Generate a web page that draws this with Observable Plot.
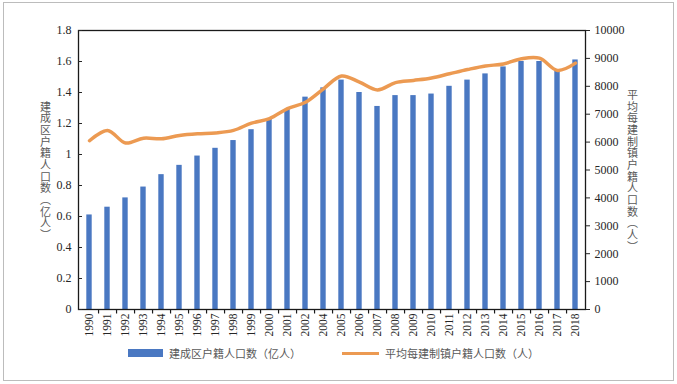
<!DOCTYPE html>
<html>
<head>
<meta charset="utf-8">
<script src="https://cdn.jsdelivr.net/npm/d3@7"></script>
<script src="https://cdn.jsdelivr.net/npm/@observablehq/plot@0.6"></script>
<style>
  html, body { margin: 0; padding: 0; background: #fff; }
  #wrap { position: relative; width: 677px; height: 384px; overflow: hidden; background: #fff; }
  #border { position: absolute; left: 3px; top: 2px; width: 669px; height: 377px; border: 1.5px solid #bcbcbc; }
  #chart { position: absolute; left: 0; top: 0; }
  #chart svg text { font-family: "Liberation Serif", "Noto Sans CJK SC", serif; }
  .lg { position: absolute; font-family: "Noto Sans CJK SC", sans-serif; font-size: 11px; color: #595959; line-height: 14px; white-space: nowrap; }
  .sw { position: absolute; }
</style>
</head>
<body>
<div id="wrap">
  <div id="border"></div>
  <div id="chart"></div>
  <div id="legend"></div>
</div>
<script>
const years = ["1990","1991","1992","1993","1994","1995","1996","1997","1998","1999","2000","2001","2002",
               "2004","2005","2006","2007","2008","2009","2010","2011","2012","2013","2014","2015","2016","2017","2018"];
const builtPop = [0.61,0.66,0.72,0.79,0.87,0.93,0.99,1.04,1.09,1.16,1.23,1.29,1.37,
                  1.43,1.48,1.40,1.31,1.38,1.38,1.39,1.44,1.48,1.52,1.565,1.60,1.60,1.54,1.61];
const townPop = [6050,6420,5970,6140,6120,6240,6300,6330,6420,6680,6840,7200,7430,
                 7910,8370,8150,7870,8130,8210,8300,8450,8600,8730,8800,8990,9010,8570,8830];
const seriesNames = ["建成区户籍人口数（亿人）", "平均每建制镇户籍人口数（人）"];
const leftTicks = [0,0.2,0.4,0.6,0.8,1,1.2,1.4,1.6,1.8];
const rightTicks = [0,1000,2000,3000,4000,5000,6000,7000,8000,9000,10000];
const leftMax = 1.8, rightMax = 10000;

const W = 677, H = 340, mL = 78, mR = 92, mT = 30, mB = 31;
const step = (W - mL - mR) / years.length;
const toLeft = v => v * leftMax / rightMax;
const vertical = s => s.replace("（", "︵").replace("）", "︶").split("").join("\n");

const data = years.map((y, i) => ({year: y, built: builtPop[i], town: townPop[i]}));
const blue = "#4a78c2", orange = "#ec9a52";
const serif = "'Liberation Serif', 'Noto Sans CJK SC', serif";
const cjk = "'Noto Sans CJK SC', sans-serif";

const chart = Plot.plot({
  width: W, height: H,
  marginTop: mT, marginBottom: mB, marginLeft: mL, marginRight: mR,
  x: {type: "band", domain: years, padding: 0, label: null},
  y: {domain: [0, leftMax], label: null},
  style: {fontFamily: serif, fontSize: "12px", color: "#262626", background: "transparent"},
  marks: [
    Plot.barY(data, {x: "year", y: "built", fill: blue, insetLeft: 6.3, insetRight: 6.3}),
    Plot.line(data, {x: "year", y: d => toLeft(d.town), stroke: orange, strokeWidth: 3.5, curve: "catmull-rom"}),
    Plot.frame({stroke: "#1a1a1a", strokeWidth: 1.3}),
    Plot.axisY(leftTicks, {anchor: "left", tickSize: 4, insetLeft: 4, tickPadding: 7, fontSize: 12, fontFamily: serif,
      tickFormat: d => String(+d.toFixed(1)), label: null}),
    Plot.axisY(rightTicks.map(toLeft), {anchor: "right", tickSize: 4, tickPadding: 5, fontSize: 12, fontFamily: serif,
      tickFormat: d => String(Math.round(d * rightMax / leftMax)), label: null}),
    Plot.axisX({tickSize: 0, tickRotate: -90, tickPadding: 4, fontSize: 11.5, fontFamily: serif, label: null}),
    Plot.ruleX(years.slice(0, -1), {x: d => d, dx: step / 2, y1: 0, y2: -4.5 * leftMax / (H - mT - mB), stroke: "#1a1a1a", strokeWidth: 1.2}),
    Plot.text([vertical(seriesNames[0])], {frameAnchor: "left", textAnchor: "middle", dx: -33, dy: 1, text: d => d, lineHeight: 1.06,
      fontSize: 11, fill: "#595959", fontFamily: cjk}),
    Plot.text([vertical(seriesNames[1])], {frameAnchor: "right", textAnchor: "middle", dx: 47, dy: 1, text: d => d, lineHeight: 1.06,
      fontSize: 11, fill: "#595959", fontFamily: cjk})
  ]
});
document.getElementById("chart").appendChild(chart);

const lg = document.getElementById("legend");
lg.innerHTML = `
  <div class="sw" style="left:128px;top:349px;width:35px;height:8px;background:${blue}"></div>
  <div class="lg" style="left:169px;top:346px">${seriesNames[0]}</div>
  <div class="sw" style="left:342px;top:351.5px;width:37px;height:3px;background:${orange}"></div>
  <div class="lg" style="left:385px;top:346px">${seriesNames[1]}</div>`;
</script>
</body>
</html>
